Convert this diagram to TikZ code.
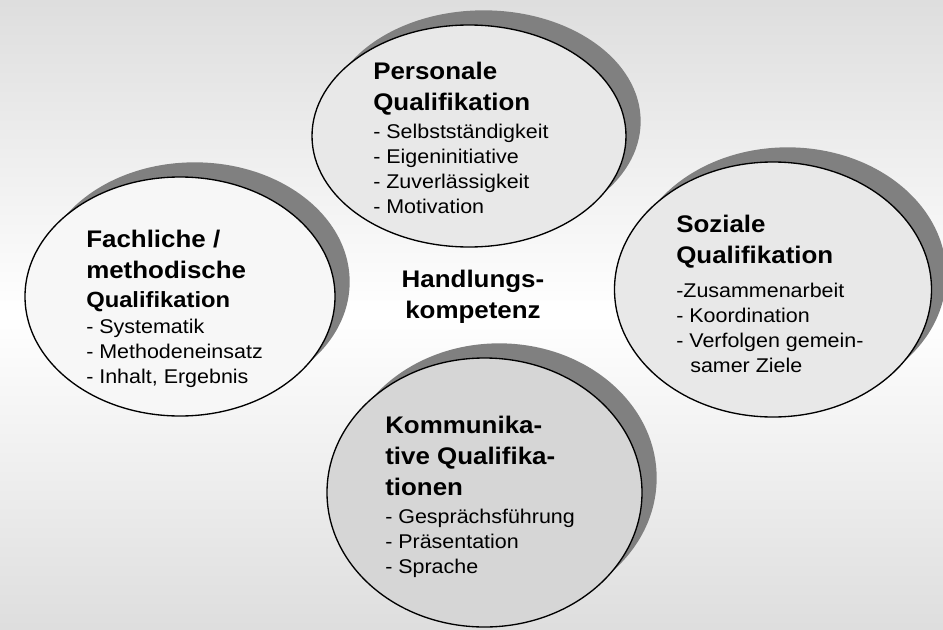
\documentclass[tikz,border=0pt]{standalone}
\usepackage{fontspec}
\setmainfont{Liberation Sans}[FakeStretch=1.08]
\usetikzlibrary{shapes.geometric,shadows}

% Mehrzeilige Knoten: Ankerpunkt liegt auf der letzten Grundlinie
\tikzset{
  quali/.style={ellipse, draw, line width=1pt, inner sep=0pt,
    drop shadow={shadow xshift=11pt, shadow yshift=11pt, fill=black!50, opacity=1}},
  titel/.style={anchor=base west, align=left, inner sep=0pt,
    font=\fontsize{18}{23.25}\selectfont\bfseries},
  punkte/.style={anchor=base west, align=left, inner sep=0pt,
    font=\fontsize{14.9}{18.75}\selectfont},
}

\begin{document}
\begin{tikzpicture}[x=0.75pt, y=-0.75pt]
    % Hintergrund
    \shade[top color=black!13, bottom color=black!13, middle color=white] (0,0) rectangle (943,629);
    \useasboundingbox (0,0) rectangle (943,629);

    % Qualifikationen
    \node[quali, fill=black!9, minimum width=235.5pt, minimum height=166.5pt] (pers) at (469,136) {};
    \node[quali, fill=black!3, minimum width=232.5pt, minimum height=179.25pt] (fach) at (180,296.5) {};
    \node[quali, fill=black!9, minimum width=237.75pt, minimum height=191.25pt] (soz) at (773,289.5) {};
    \node[quali, fill=black!16, minimum width=236.25pt, minimum height=201.75pt] (komm) at (484.5,492.5) {};

    % Personale Qualifikation
    \node[titel] (persT) at (373,110) {Personale\\Qualifikation};
    \node[punkte] (persP) at (373,213) {- Selbstständigkeit\\- Eigeninitiative\\- Zuverlässigkeit\\- Motivation};

    % Fachliche / methodische Qualifikation
    \node[titel] (fachT) at (86,278) {Fachliche /\\methodische};
    \node[titel, font=\fontsize{16.5}{20}\selectfont\bfseries] (fachQ) at (86,307) {Qualifikation};
    \node[punkte] (fachP) at (86,383) {- Systematik\\- Methodeneinsatz\\- Inhalt, Ergebnis};

    % Soziale Qualifikation
    \node[titel] (sozT) at (676,263) {Soziale\\Qualifikation};
    \node[punkte] (sozP) at (676,372) {-Zusammenarbeit\\- Koordination\\- Verfolgen gemein-\\\hspace*{10.5pt}samer Ziele};

    % Kommunikative Qualifikationen
    \node[titel] (kommT) at (385,495) {Kommunika-\\tive Qualifika-\\tionen};
    \node[punkte] (kommP) at (385,573) {- Gesprächsführung\\- Präsentation\\- Sprache};

    % Mitte
    \node[titel, anchor=base, align=center] (hk) at (473,318) {Handlungs-\\kompetenz};
\end{tikzpicture}
\end{document}
